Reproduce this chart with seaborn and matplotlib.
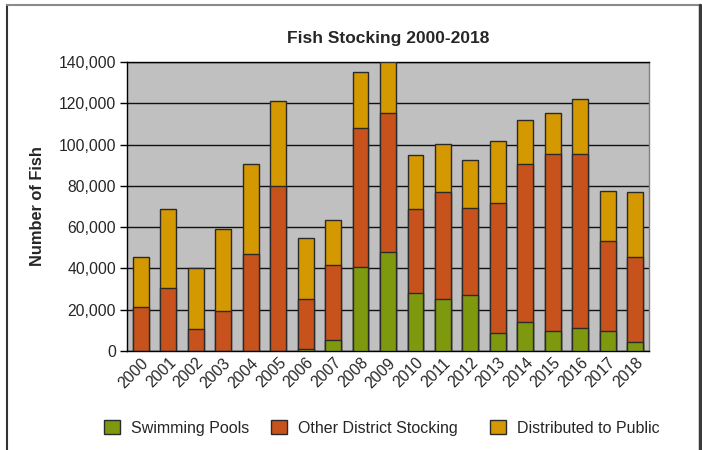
import matplotlib
matplotlib.use("Agg")
import matplotlib.pyplot as plt
import seaborn as sns
import numpy as np
import pandas as pd
from matplotlib.lines import Line2D
from matplotlib.patches import Patch
from matplotlib.ticker import FuncFormatter, MultipleLocator

years = [str(y) for y in range(2000, 2019)]
swimming_pools = [0, 0, 0, 0, 0, 0, 1000, 5200, 40500, 48000, 27900, 25000,
                  27300, 8600, 13900, 9800, 11000, 9500, 4200]
other_district = [21100, 30300, 10500, 19400, 47000, 79800, 24300, 36300, 67700,
                  67200, 41100, 51900, 42200, 63200, 76600, 85500, 84300, 43700, 41100]
distributed_public = [24500, 38700, 29800, 39600, 43500, 41500, 29200, 21900, 27000,
                      24800, 25800, 23600, 22900, 30100, 21300, 19900, 26600, 24100, 31600]
series_names = ["Swimming Pools", "Other District Stocking", "Distributed to Public"]
colors = ["#7F990E", "#C8521C", "#D49800"]

sns.set_style("white")
plt.rcParams['font.family'] = ['Liberation Sans', 'DejaVu Sans']

df = pd.DataFrame({"year": years,
                   "pools": swimming_pools,
                   "other": other_district,
                   "public": distributed_public})
df["c1"] = df["pools"]
df["c2"] = df["pools"] + df["other"]
df["c3"] = df["c2"] + df["public"]

fig = plt.figure(figsize=(7.02, 4.50), dpi=100)
ax = fig.add_axes([127/702, 1-351/450, (649-127)/702, (351-62)/450])
ax.set_facecolor("#C0C0C0")

for col, c in zip(["c3", "c2", "c1"], colors[::-1]):
    sns.barplot(data=df, x="year", y=col, color=c, width=0.58, ax=ax,
                edgecolor="#2a2a2a", linewidth=1.0, saturation=1, zorder=3)

ax.set_ylim(0, 140000)
ax.set_xlim(-0.5, 18.5)
ax.yaxis.set_major_locator(MultipleLocator(20000))
ax.yaxis.set_major_formatter(FuncFormatter(lambda v, p: f"{int(v):,}"))
ax.grid(axis="y", color="#111111", linewidth=1.0, zorder=0)
ax.set_axisbelow(True)

ax.set_xticks(range(len(years)))
ax.set_xticklabels(years, rotation=45, ha="right", rotation_mode="anchor", fontsize=11.3)
ax.tick_params(axis="x", which="major", length=0, pad=3)
ax.set_xticks(np.arange(-0.5, 19, 1), minor=True)
ax.tick_params(axis="x", which="minor", length=5, width=1, color="black", direction="out")
ax.tick_params(axis="y", which="major", length=5, width=1, color="black",
               direction="out", labelsize=11.3, pad=3, left=True)
ax.set_xlabel("")
ax.set_ylabel("Number of Fish", fontsize=11.8, fontweight="bold", labelpad=10)
ax.set_title("Fish Stocking 2000-2018", fontsize=12.5, fontweight="bold", pad=14)

for s in ["left", "bottom", "top"]:
    ax.spines[s].set_color("black")
    ax.spines[s].set_linewidth(1.0)
ax.spines["right"].set_color("#808080")
ax.spines["right"].set_linewidth(1.0)

# legends placed individually (Excel-like spacing)
legend_x = [104/702, 271/702, 490/702]
for name, c, lx in zip(series_names, colors, legend_x):
    h = [Patch(facecolor=c, edgecolor="#2a2a2a", linewidth=1.0)]
    fig.legend(h, [name], loc="center left", bbox_to_anchor=(lx, 1-428/450),
               frameon=False, fontsize=11.5, handlelength=1.0, handleheight=1.0,
               handletextpad=0.7, borderpad=0, borderaxespad=0)

# outer frame
fig.add_artist(Line2D([7/702, 7/702], [0, 1-5/450], transform=fig.transFigure,
                      color="#333333", linewidth=1.5))
fig.add_artist(Line2D([7/702, 700/702], [1-5/450, 1-5/450], transform=fig.transFigure,
                      color="#8a8a8a", linewidth=1.5))
fig.add_artist(Line2D([700/702, 700/702], [0, 1-5/450], transform=fig.transFigure,
                      color="#3a3a3a", linewidth=2.5))

fig.savefig("out.png", dpi=100)
